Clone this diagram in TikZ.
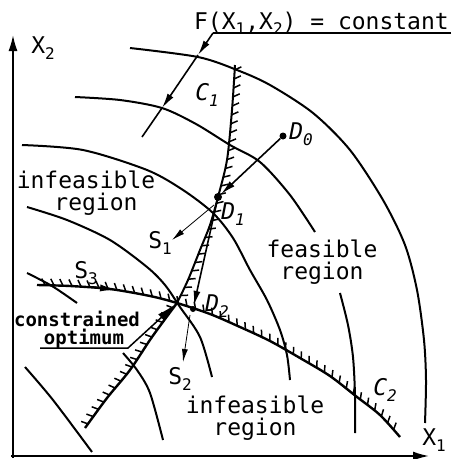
\documentclass[tikz,border=0pt]{standalone}
\usepackage{fontspec}
\setmonofont{DejaVu Sans Mono}
\usetikzlibrary{arrows.meta,decorations.markings}
\newcommand\lsub[1]{\raisebox{-0.45ex}{\fontsize{16}{16}\selectfont #1}}
\tikzset{
  curve/.style={line width=2pt},
  axisline/.style={line width=1.8pt,-{Latex[length=16pt,width=9pt]}},
  lead/.style={line width=1.6pt},
  ptr/.style={line width=1.6pt,-{Latex[length=15pt,width=7pt]}},
  thinptr/.style={line width=0.8pt,-{Latex[length=13pt,width=6pt]}},
  lbl/.style={font=\ttfamily\fontsize{23}{22}\selectfont, inner sep=0pt, align=center},
  lblit/.style={font=\ttfamily\itshape\fontsize{23}{23}\selectfont, inner sep=0pt},
  lblsm/.style={font=\ttfamily\bfseries\fontsize{19}{18}\selectfont, inner sep=0pt, align=center},
  blob/.style={circle, fill, inner sep=0pt, minimum size=#1},
  hatchR/.style={postaction={decorate, decoration={markings, mark=between positions 0.02 and 0.99 step 9pt with {\draw[line width=1.5pt] (0pt,0pt) -- (-3.5pt,6.5pt);}}}},
  hatchL/.style={postaction={decorate, decoration={markings, mark=between positions 0.04 and 0.99 step 9pt with {\draw[line width=1.5pt] (0pt,0pt) -- (2pt,-7pt);}}}}
}
\begin{document}
\begin{tikzpicture}[x=1pt,y=-1pt]
\useasboundingbox (0,0) rectangle (451,459);

% axes
\coordinate (O) at (13,458);
\coordinate (Ox) at (11,456);
\coordinate (Ytip) at (13,35);
\coordinate (Xtip) at (429,456);
\draw[axisline] (O) -- (Ytip);
\draw[axisline] (Ox) -- (Xtip);

% contours F = constant
\draw[curve] plot[smooth] coordinates {(130,48) (198,57) (237,70) (270,85) (313,113) (350,150) (383,200) (405,245) (417,290) (424,340) (426,380) (425,423)};
\draw[curve] plot[smooth] coordinates {(75,97) (120,100) (162,108) (196,124) (230,145) (260,162) (290,195) (315,232)};
\draw[curve] plot[smooth] coordinates {(340,293) (348,325) (353,357) (355,395) (355,433)};
\draw[curve] plot[smooth] coordinates {(22,145) (83,150) (147,170) (183,190) (213,213) (233,238) (250,270) (267,300) (280,330) (287,355) (290,380)};
\draw[curve] plot[smooth] coordinates {(27,207) (67,220) (110,240) (147,267) (165,285) (180,307) (200,337) (212,377)};
\draw[curve] plot[smooth] coordinates {(27,273) (52,286) (77,303)};
\draw[curve] plot[smooth] coordinates {(123,353) (137,370) (150,393) (163,440)};
\draw[curve] plot[smooth] coordinates {(25,367) (53,400) (92,452)};

% constraint C1
\draw[curve, hatchR] plot[smooth] coordinates {(235,65) (232,110) (227,160) (218,197) (210,225) (200,250) (188,280) (177,303)};
\draw[curve, line width=2.4pt, hatchL] plot[smooth] coordinates {(177,303) (152,337) (130,370) (107,398) (85,428)};
% constraint C2
\draw[curve, line width=2.4pt, hatchR] plot[smooth] coordinates {(37,285) (70,286) (110,289) (150,296) (177,303) (210,314) (240,327) (270,341) (300,358) (330,376) (357,397) (380,415) (400,437)};

% F(X1,X2) = constant leader
\coordinate (T1) at (451,33);
\coordinate (T0) at (213,33);
\coordinate (TA) at (198,55);
\coordinate (TB) at (162,108);
\coordinate (TE) at (142,137);
\draw[lead] (T1) -- (T0);
\draw[ptr] (T0) -- (TA);
\draw[ptr] (TA) -- (TB);
\draw[lead] (TB) -- (TE);

% points and search steps
\node[blob=7pt] (D0) at (283,136) {};
\node[blob=8pt] (D1) at (218,197) {};
\node[blob=6pt] (D2) at (193,309) {};
\coordinate (Opt) at (176,304);
\draw[ptr] (D0) -- (D1);
\draw[ptr] (D1) -- (D2);
\coordinate (S1s) at (214,205);
\coordinate (S1e) at (172,240);
\draw[thinptr] (S1s) -- (S1e);
\coordinate (S2s) at (190,315);
\coordinate (S2e) at (183,362);
\draw[thinptr] (S2s) -- (S2e);
\coordinate (S3a) at (92,287);
\coordinate (S3b) at (118,290);
\draw[line width=2pt, -{Latex[length=18pt,width=7pt]}] (S3a) -- (S3b);

% constrained optimum leader
\coordinate (L0) at (40,348);
\coordinate (L1) at (128,348);
\draw[line width=1.5pt, -{Latex[length=20pt,width=9pt]}] (L0) -- (L1) -- (Opt);

% labels
\node[lbl, anchor=base east] (Flbl) at (449,29) {F(X\lsub{1},X\lsub{2}) = constant};
\node[lbl] (X2lbl) at (43,48) {X\lsub{2}};
\node[lbl] (X1lbl) at (434,440) {X\lsub{1}};
\node[lblit] (C1lbl) at (207,95) {C\lsub{1}};
\node[lblit] (C2lbl) at (385,390) {C\lsub{2}};
\node[lblit] (D0lbl) at (301,134) {D\lsub{0}};
\node[lblit] (D1lbl) at (233,214) {D\lsub{1}};
\node[lblit] (D2lbl) at (217,306) {D\lsub{2}};
\node[lbl] (S1lbl) at (160,243) {S\lsub{1}};
\node[lbl] (S2lbl) at (180,379) {S\lsub{2}};
\node[lbl] (S3lbl) at (86,273) {S\lsub{3}};
\node[lbl] (inf1) at (86,193) {infeasible\\\hspace*{20pt}region};
\node[lbl] (fea) at (322,262) {feasible\\region};
\node[lbl] (inf2) at (255,418) {infeasible\\region};
\node[lblsm] (con) at (77,330) {constrained\\\hspace*{14pt}optimum};
\end{tikzpicture}
\end{document}
